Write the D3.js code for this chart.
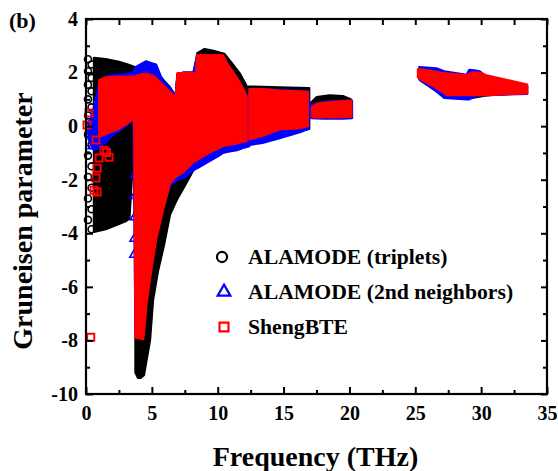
<!DOCTYPE html>
<html><head><meta charset="utf-8">
<script src="https://cdn.jsdelivr.net/npm/d3@7/dist/d3.min.js"></script>
<style>body{margin:0;background:#fff}svg{display:block}</style>
</head><body><svg id="c" width="558" height="471"></svg>
<script>
// ---------- data ----------
const xTicks = [0, 5, 10, 15, 20, 25, 30, 35];
const xMinorTicks = [2.5, 7.5, 12.5, 17.5, 22.5, 27.5, 32.5];
const yTicks = [-10, -8, -6, -4, -2, 0, 2, 4];
const yMinorTicks = [-9, -7, -5, -3, -1, 1, 3];
const seriesNames = ["ALAMODE (triplets)", "ALAMODE (2nd neighbors)", "ShengBTE"];
const seriesColors = ["#000000", "#0000ff", "#ff0000"];

// dense point clouds, read as columns: [frequency THz, lowest gamma, highest gamma]
const tripletsAcoustic = [[0.6,-3.95,2.55],[1.5,-3.85,2.5],[2.5,-3.65,2.4],[3.0,-3.55,2.33],[3.3,-3.45,2.28],[3.75,0.3,2.2]];
const tripletsOptical = [[3.75,-9.2,2.2],[3.95,-9.4,2.2],[4.15,-9.4,2.2],[4.4,-9.3,2.15],[4.86,-8.0,2.1],[5.09,-6.5,2.05],[5.47,-5.4,1.95],[5.92,-4.45,1.7],[6.38,-3.3,1.45],[6.8,-2.85,1.12],[6.95,-2.7,1.95],[7.44,-2.28,2.0],[8.2,-1.6,2.0],[8.45,-1.4,2.72],[9.0,-1.2,2.88],[9.6,-1.0,2.82],[10.5,-0.85,2.7],[11.0,-0.75,2.4],[11.7,-0.67,1.95],[12.3,-0.5,1.4]];
const tripletsBandA = [[12.35,-0.45,1.48],[14.7,-0.3,1.45],[16.95,-0.1,1.42]];
const tripletsBandB = [[17.1,0.4,0.88],[17.5,0.35,1.08],[18.5,0.35,1.15],[19.5,0.35,1.12],[20.1,0.4,1.0]];
const tripletsBandC = [[25.4,1.7,2.05],[27.0,1.2,1.95],[29.3,1.05,1.85],[30.4,1.15,1.8],[33.3,1.25,1.5]];

const neighborsMain = [[0.2,-0.5,0.0],[0.6,-0.9,0.7],[1.0,-0.8,1.6],[1.5,-0.6,1.85],[2.0,-0.35,1.9],[3.0,0.0,1.95],[3.6,0.25,2.0],[3.75,-7.6,2.2],[4.3,-7.6,2.35],[4.56,-6.3,2.42],[5.0,-5.0,2.35],[5.32,-4.15,2.3],[5.69,-3.4,1.85],[5.85,-3.05,1.7],[6.4,-2.2,1.4],[6.8,-2.05,1.12],[6.95,-2.0,1.95],[7.4,-1.95,2.0],[8.15,-1.65,2.0],[8.3,-1.6,2.35],[8.43,-1.57,2.6],[10.17,-1.08,2.6],[10.4,-1.0,2.6],[10.8,-0.95,2.25],[11.47,-0.9,1.8],[12.0,-0.8,1.3],[12.4,-0.75,0.8]];
const neighborsBandA = [[12.2,-0.72,0.8],[12.4,-0.7,1.35],[13.4,-0.63,1.38],[14.7,-0.45,1.35],[16.3,-0.22,1.32],[16.9,-0.1,1.3]];
const neighborsBandB = [[17.1,0.3,0.8],[18.0,0.28,0.9],[19.5,0.28,0.95],[20.2,0.3,0.95]];
const neighborsBandC = [[25.3,1.75,2.2],[26.6,1.3,2.16],[27.2,1.05,2.05],[28.9,1.0,1.92],[29.1,1.0,2.1],[29.5,1.1,2.08],[29.9,1.15,2.05],[30.4,1.16,1.85],[33.5,1.2,1.5]];

const shengMain = [[1.0,-0.4,1.72],[1.5,-0.3,1.82],[2.5,-0.1,1.85],[3.0,0.05,1.85],[3.65,0.3,1.85],[3.75,-7.9,1.87],[4.35,-7.95,1.95],[4.63,-6.5,1.95],[5.01,-5.2,1.9],[5.32,-4.25,1.8],[5.85,-3.13,1.53],[6.38,-2.13,1.27],[6.8,-1.9,1.05],[6.95,-1.85,1.98],[7.37,-1.72,1.98],[8.15,-1.35,1.98],[8.3,-1.3,1.7],[8.43,-1.27,2.65],[9.42,-0.97,2.65],[10.4,-0.75,2.65],[10.7,-0.71,2.35],[11.4,-0.65,1.85],[12.0,-0.58,1.35],[12.2,-0.55,1.1]];
const shengBandA = [[12.4,-0.5,1.38],[13.5,-0.35,1.38],[14.7,-0.12,1.33],[16.2,-0.08,1.3],[16.85,0.0,1.28]];
const shengBandB = [[17.15,0.34,0.72],[17.6,0.33,0.85],[19.0,0.33,0.92],[20.15,0.35,0.95]];
const shengBandC = [[25.2,1.82,2.12],[25.5,1.72,2.12],[26.6,1.42,2.03],[26.9,1.34,2.0],[27.4,1.16,1.97],[28.9,1.16,1.9],[29.3,1.16,2.0],[29.9,1.16,2.0],[30.4,1.16,1.9],[33.5,1.22,1.55]];

// isolated markers: [frequency THz, gamma]
const tripletsPoints = [[0.15,2.5],[0.42,2.3],[0.15,2.05],[0.42,1.8],[0.15,1.55],[0.42,1.3],[0.15,1.0],[0.42,0.7],[0.15,0.4],[0.42,0.1],[0.15,-0.3],[0.42,-0.7],[0.15,-1.1],[0.42,-1.5],[0.15,-1.9],[0.42,-2.3],[0.15,-2.7],[0.42,-3.1],[0.15,-3.5],[0.42,-3.85]];
const neighborsPoints = [[0.3,-0.3],[0.5,-0.75],[0.8,-0.45],[0.45,0.2],[1.55,1.25],[3.72,-1.8],[3.72,-2.6],[3.7,-3.4],[3.68,-4.2],[3.66,-4.8],[16.9,0.45],[17.0,0.6],[16.85,0.55],[12.3,0.4],[12.3,0.65]];
const shengPoints = [[1.37,1.23],[1.82,1.34],[0.23,0.49],[0.08,0.04],[0.76,-0.52],[1.37,-0.9],[1.75,-1.16],[0.99,-1.19],[0.84,-1.57],[0.76,-1.94],[0.61,-2.39],[0.84,-2.46],[1.55,-0.98],[0.36,-7.88]];

// ---------- layout ----------
const svg = d3.select("#c");
const L = 86, R = 547, T = 19, B = 394;
const x = d3.scaleLinear().domain([0, 35]).range([L, R]);
const y = d3.scaleLinear().domain([-10, 4]).range([B, T]);
const FONT = "'Liberation Serif','Times New Roman',serif";

const plot = svg.append("g");
const area = d3.area().x(d => x(d[0])).y0(d => y(d[1])).y1(d => y(d[2]));

function drawClouds(bands, color) {
  bands.forEach(b => plot.append("path").attr("d", area(b))
    .attr("fill", color).attr("stroke", color).attr("stroke-width", 2.2)
    .attr("stroke-linejoin", "round"));
}
const sym = {
  circle: d3.symbol().type(d3.symbolCircle).size(38),
  triangle: d3.symbol().type(d3.symbolTriangle).size(34),
  square: d3.symbol().type(d3.symbolSquare).size(50)
};
function drawPoints(pts, kind, color, sw) {
  plot.selectAll(null).data(pts).enter().append("path")
    .attr("d", sym[kind]).attr("transform", d => `translate(${x(d[0])},${y(d[1])})`)
    .attr("fill", "none").attr("stroke", color).attr("stroke-width", sw);
}

drawClouds([tripletsAcoustic, tripletsOptical, tripletsBandA, tripletsBandB, tripletsBandC], seriesColors[0]);
drawPoints(tripletsPoints, "circle", seriesColors[0], 1.6);
drawClouds([neighborsMain, neighborsBandA, neighborsBandB, neighborsBandC], seriesColors[1]);
drawPoints(neighborsPoints, "triangle", seriesColors[1], 1.6);
drawClouds([shengMain, shengBandA, shengBandB, shengBandC], seriesColors[2]);
drawPoints(shengPoints, "square", seriesColors[2], 1.9);

// ---------- axes ----------
function styleAxis(g) {
  g.select(".domain").remove();
  g.selectAll("line").attr("stroke", "#000").attr("stroke-width", 2);
  g.selectAll("text").attr("font-family", FONT).attr("font-weight", "bold")
    .attr("font-size", 20).attr("fill", "#000");
}
svg.append("g").attr("transform", `translate(0,${B})`)
  .call(d3.axisBottom(x).tickValues(xTicks).tickSize(-7).tickPadding(12).tickFormat(d => String(d))).call(styleAxis);
svg.append("g").attr("transform", `translate(0,${B})`)
  .call(d3.axisBottom(x).tickValues(xMinorTicks).tickSize(-4).tickFormat("")).call(styleAxis);
svg.append("g").attr("transform", `translate(0,${T})`)
  .call(d3.axisTop(x).tickValues(xTicks.concat(xMinorTicks)).tickSize(-6).tickFormat("")).call(styleAxis);
svg.append("g").attr("transform", `translate(${L},0)`)
  .call(d3.axisLeft(y).tickValues(yTicks).tickSize(-7).tickPadding(8).tickFormat(d => String(d))).call(styleAxis);
svg.append("g").attr("transform", `translate(${L},0)`)
  .call(d3.axisLeft(y).tickValues(yMinorTicks).tickSize(-4).tickFormat("")).call(styleAxis);
svg.append("g").attr("transform", `translate(${R},0)`)
  .call(d3.axisRight(y).tickValues(yTicks).tickSize(-6).tickFormat("")).call(styleAxis);
svg.append("g").attr("transform", `translate(${R},0)`)
  .call(d3.axisRight(y).tickValues(yMinorTicks).tickSize(-4).tickFormat("")).call(styleAxis);

svg.append("rect").attr("x", L).attr("y", T).attr("width", R - L).attr("height", B - T)
  .attr("fill", "none").attr("stroke", "#000").attr("stroke-width", 2.2);

// ---------- titles ----------
svg.append("text").attr("x", (L + R) / 2 - 1).attr("y", 466).attr("text-anchor", "middle")
  .attr("font-family", FONT).attr("font-weight", "bold").attr("font-size", 28).text("Frequency (THz)");
svg.append("text").attr("transform", "translate(32,221) rotate(-90)").attr("text-anchor", "middle")
  .attr("font-family", FONT).attr("font-weight", "bold").attr("font-size", 28).text("Gruneisen parameter");
svg.append("text").attr("x", 9).attr("y", 28)
  .attr("font-family", FONT).attr("font-weight", "bold").attr("font-size", 22).text("(b)");

// ---------- legend ----------
const legendKinds = ["circle", "triangle", "square"];
const legendSym = {
  circle: d3.symbol().type(d3.symbolCircle).size(80),
  triangle: d3.symbol().type(d3.symbolTriangle).size(70),
  square: d3.symbol().type(d3.symbolSquare).size(80)
};
seriesNames.forEach((name, i) => {
  const cy = 257 + i * 35;
  svg.append("path").attr("d", legendSym[legendKinds[i]]).attr("transform", `translate(${i === 0 ? 222 : 224},${cy})`)
    .attr("fill", "none").attr("stroke", seriesColors[i]).attr("stroke-width", 2.2);
  svg.append("text").attr("x", 248).attr("y", cy + 7)
    .attr("font-family", FONT).attr("font-weight", "bold").attr("font-size", 21.7).text(name);
});
</script></body></html>
